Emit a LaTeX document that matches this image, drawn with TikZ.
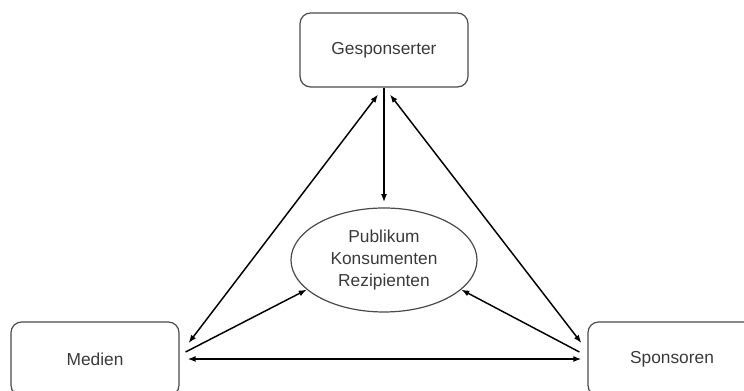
\documentclass[tikz,border=0pt]{standalone}
\usepackage{fontspec}
\setmainfont{Liberation Sans}
\usetikzlibrary{arrows.meta,shapes.geometric}
\definecolor{textgray}{HTML}{3A3A3A}
\definecolor{framegray}{HTML}{4A4A4A}

\begin{document}
\begin{tikzpicture}[x=0.75pt,y=0.75pt,
  box/.style={draw=framegray,line width=0.9pt,rounded corners=8pt,
    minimum width=126pt,minimum height=55.5pt,inner sep=0pt,
    text=textgray,font=\fontsize{13}{16}\selectfont},
  oval/.style={ellipse,draw=framegray,line width=0.9pt,
    minimum width=139.5pt,minimum height=78pt,inner sep=0pt,
    align=center,text=textgray,font=\fontsize{13}{16.5}\selectfont},
  tip/.style={line width=1.1pt,-{Latex[length=6pt,width=4.5pt]}},
  both/.style={line width=1.1pt,{Latex[length=6pt,width=4.5pt]}-{Latex[length=6pt,width=4.5pt]}}]
  \useasboundingbox (0,0) rectangle (744,391);
  \node[box] (gesp) at (384,341) {Gesponserter};
  \node[box] (medien) at (95,32) {Medien};
  \node[box] (spons) at (672,32) {Sponsoren};
  \node[oval] (publikum) at (384,131) {Publikum\\Konsumenten\\Rezipienten};
  \draw[tip,shorten >=4pt] (gesp.south) -- (publikum.north);
  \draw[both] ([shift={(-6,-7)}]gesp.south) -- ([shift={(9,16)}]medien.east);
  \draw[both] ([shift={(6,-7)}]gesp.south) -- ([shift={(-6,16)}]spons.west);
  \draw[both] ([shift={(8,0)}]medien.east) -- ([shift={(-6,0)}]spons.west);
  \draw[tip] ([shift={(6,7)}]medien.east) -- (publikum.201);
  \draw[tip] ([shift={(-8,7)}]spons.west) -- (publikum.339);
\end{tikzpicture}
\end{document}
